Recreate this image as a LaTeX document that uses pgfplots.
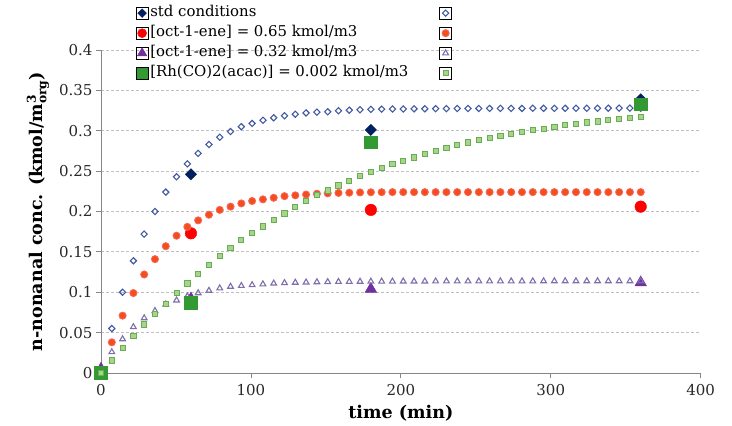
\documentclass[border=0pt]{standalone}
\usepackage{pgfplots}
\pgfplotsset{compat=1.18}
\usepackage{amsmath}
\usepackage{fontspec}
\setmainfont{DejaVu Serif}
\definecolor{navy}{RGB}{0,32,96}
\definecolor{navym}{RGB}{65,90,160}
\definecolor{redx}{RGB}{255,0,0}
\definecolor{redmf}{RGB}{240,80,30}
\definecolor{redme}{RGB}{255,100,90}
\definecolor{purx}{RGB}{112,48,160}
\definecolor{purm}{RGB}{128,110,170}
\definecolor{grx}{RGB}{51,153,51}
\definecolor{grmf}{RGB}{170,210,140}
\definecolor{grme}{RGB}{100,175,80}
\definecolor{axgray}{RGB}{134,134,134}
\definecolor{grgray}{RGB}{191,191,191}
\definecolor{txt}{RGB}{40,40,40}
\begin{document}
\begin{tikzpicture}[x=1pt,y=1pt]
\useasboundingbox (0,0) rectangle (732,426);
\begin{axis}[
  at={(101pt,53pt)}, anchor=south west,
  scale only axis, width=599.7pt, height=323pt,
  xmin=0, xmax=400, ymin=0, ymax=0.4,
  clip=false,
  axis x line*=bottom, axis y line*=left,
  axis line style={draw=axgray, line width=0.8pt},
  xtick={0,100,200,300,400},
  ytick={0,0.05,0.1,0.15,0.2,0.25,0.3,0.35,0.4},
  tick align=outside, major tick length=5pt,
  tick style={draw=axgray, line width=0.8pt},
  ymajorgrids, grid style={draw=grgray, line width=0.75pt, dash pattern=on 3pt off 2pt},
  /pgf/number format/assume math mode=true,
  yticklabel style={/pgf/number format/fixed, /pgf/number format/precision=2},
  xticklabel style={yshift=-3pt},
  ticklabel style={font=\fontsize{15}{17}\selectfont, text=txt},
  xlabel={\textbf{time (min)}},
  ylabel={\textbf{n-nonanal conc. (kmol/m$^{\text{\textbf{3}}}_{\text{\textbf{org}}}$)}},
  every axis x label/.style={at={(axis description cs:0.5,-0.124)}, anchor=center, font=\fontsize{17.5}{19}\selectfont},
  every axis y label/.style={at={(axis description cs:-0.105,0.5)}, anchor=center, rotate=90, font=\fontsize{17.5}{19}\selectfont},
  only marks,
  legend image code/.code={\path (-6pt,-6pt) rectangle (6pt,6pt); \draw[#1] plot coordinates {(0pt,0pt)};},
  legend columns=2,
  legend cell align=left,
  legend style={draw=none, fill=none, at={(axis description cs:0.0579,1.1378)}, anchor=north west,
    inner sep=0pt, row sep=5pt, font=\fontsize{14.9}{17}\selectfont,
    nodes={inner xsep=2pt, inner ysep=0pt, text height=11pt, text depth=4pt},
    /tikz/every even column/.append style={column sep=29pt}},
]
% std conditions experimental
\addplot[mark=square*, mark size=4, mark options={rotate=45, fill=navy, draw=navy}, legend image post style={mark size=3.1}]
 coordinates {(0,0) (60,0.246) (180,0.301) (360,0.339)};
\addlegendentry{std conditions}
% std model
\addplot[mark=square, mark size=2.2, mark options={rotate=45, draw=navym, line width=1.1pt, fill=white}]
 coordinates {(0,0) (7.2,0.055) (14.4,0.100) (21.6,0.139) (28.8,0.172) (36,0.200) (43.2,0.224) (50.4,0.243) (57.6,0.259) (64.8,0.272) (72,0.283) (79.2,0.292) (86.4,0.299) (93.6,0.305) (100.8,0.309) (108,0.313) (115.2,0.316) (122.4,0.3185) (129.6,0.3205) (136.8,0.322) (144,0.323) (151.2,0.3235) (158.4,0.3248) (165.6,0.3255) (172.8,0.326) (180,0.3265) (187.2,0.3267) (194.4,0.3269) (201.6,0.327) (208.8,0.3271) (216,0.3272) (223.2,0.3273) (230.4,0.3274) (237.6,0.3275) (244.8,0.3275) (252,0.3276) (259.2,0.3276) (266.4,0.3277) (273.6,0.3277) (280.8,0.3277) (288,0.3278) (295.2,0.3278) (302.4,0.3278) (309.6,0.3278) (316.8,0.3279) (324,0.3279) (331.2,0.3279) (338.4,0.3279) (345.6,0.328) (352.8,0.328) (360,0.328)};
\addlegendentry{\mbox{}}
% oct-1-ene 0.65 experimental
\addplot[mark=*, mark size=5.8, mark options={fill=redx, draw=redx}, legend image post style={mark size=4.5}]
 coordinates {(0,0) (60,0.173) (180,0.202) (360,0.206)};
\addlegendentry{[oct-1-ene] = 0.65 kmol/m3}
% model
\addplot[mark=*, mark size=3.6, mark options={fill=redmf, draw=redme, line width=0.8pt}]
 coordinates {(0,0) (7.2,0.038) (14.4,0.071) (21.6,0.099) (28.8,0.122) (36,0.141) (43.2,0.157) (50.4,0.170) (57.6,0.181) (64.8,0.189) (72,0.196) (79.2,0.202) (86.4,0.206) (93.6,0.210) (100.8,0.213) (108,0.215) (115.2,0.217) (122.4,0.219) (129.6,0.220) (136.8,0.221) (144,0.222) (151.2,0.2225) (158.4,0.223) (165.6,0.2233) (172.8,0.2236) (180,0.2238) (187.2,0.2239) (194.4,0.224) (201.6,0.224) (208.8,0.224) (216,0.224) (223.2,0.224) (230.4,0.224) (237.6,0.224) (244.8,0.224) (252,0.224) (259.2,0.224) (266.4,0.224) (273.6,0.224) (280.8,0.224) (288,0.224) (295.2,0.224) (302.4,0.224) (309.6,0.224) (316.8,0.224) (324,0.224) (331.2,0.224) (338.4,0.224) (345.6,0.224) (352.8,0.224) (360,0.224)};
\addlegendentry{\mbox{}}
% oct-1-ene 0.32 experimental
\addplot[mark=triangle*, mark size=6.7, mark options={fill=purx, draw=purx}, legend image post style={mark size=5.6}]
 coordinates {(0,0.005) (60,0.092) (180,0.104) (360,0.112)};
\addlegendentry{[oct-1-ene] = 0.32 kmol/m3}
% model
\addplot[mark=triangle, mark size=3.3, mark options={draw=purm, line width=1.1pt, fill=white}]
 coordinates {(0,0) (7.2,0.026) (14.4,0.042) (21.6,0.057) (28.8,0.068) (36,0.077) (43.2,0.085) (50.4,0.090) (57.6,0.095) (64.8,0.099) (72,0.102) (79.2,0.105) (86.4,0.107) (93.6,0.108) (100.8,0.109) (108,0.110) (115.2,0.111) (122.4,0.1115) (129.6,0.112) (136.8,0.1123) (144,0.1126) (151.2,0.1128) (158.4,0.113) (165.6,0.1131) (172.8,0.1132) (180,0.1133) (187.2,0.1134) (194.4,0.1134) (201.6,0.1135) (208.8,0.1135) (216,0.1135) (223.2,0.1136) (230.4,0.1136) (237.6,0.1136) (244.8,0.1136) (252,0.1137) (259.2,0.1137) (266.4,0.1137) (273.6,0.1137) (280.8,0.1137) (288,0.1137) (295.2,0.1138) (302.4,0.1138) (309.6,0.1138) (316.8,0.1138) (324,0.1138) (331.2,0.1138) (338.4,0.1138) (345.6,0.1138) (352.8,0.1138) (360,0.1138)};
\addlegendentry{\mbox{}}
% Rh experimental
\addplot[mark=square*, mark size=6.3, mark options={fill=grx, draw=grx}, legend image post style={mark size=4.8}]
 coordinates {(0,0) (60,0.087) (180,0.286) (360,0.333)};
\addlegendentry{[Rh(CO)2(acac)] = 0.002 kmol/m3}
% model
\addplot[mark=square*, mark size=2.6, mark options={fill=grmf, draw=grme, line width=0.9pt}]
 coordinates {(0,0) (7.2,0.0155) (14.4,0.031) (21.6,0.0455) (28.8,0.060) (36,0.073) (43.2,0.0854) (50.4,0.099) (57.6,0.111) (64.8,0.123) (72,0.1337) (79.2,0.1445) (86.4,0.1544) (93.6,0.1643) (100.8,0.173) (108,0.1816) (115.2,0.190) (122.4,0.1977) (129.6,0.2055) (136.8,0.2133) (144,0.220) (151.2,0.226) (158.4,0.2323) (165.6,0.238) (172.8,0.2439) (180,0.2492) (187.2,0.2538) (194.4,0.2587) (201.6,0.2628) (208.8,0.267) (216,0.2711) (223.2,0.2752) (230.4,0.279) (237.6,0.2823) (244.8,0.2856) (252,0.2885) (259.2,0.291) (266.4,0.2938) (273.6,0.2963) (280.8,0.2988) (288,0.3008) (295.2,0.3025) (302.4,0.305) (309.6,0.307) (316.8,0.3086) (324,0.3104) (331.2,0.3116) (338.4,0.3132) (345.6,0.3145) (352.8,0.3157) (360,0.317)};
\addlegendentry{\mbox{}}
\end{axis}
\end{tikzpicture}
\end{document}
